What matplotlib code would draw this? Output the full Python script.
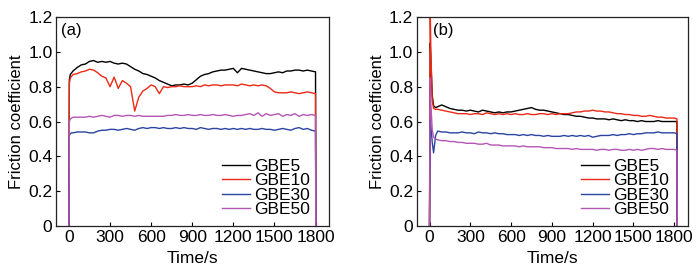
import numpy as np
import matplotlib
matplotlib.use('Agg')
import matplotlib.pyplot as plt

plt.rcParams['font.family'] = ['Liberation Sans', 'DejaVu Sans']
plt.rcParams['font.size'] = 12

LABELS = ['GBE5', 'GBE10', 'GBE30', 'GBE50']
COLORS = ['#000000', '#ea2a16', '#2b44a0', '#b456b4']

# (a) time grid: start-up points, 30 s steps, then the drop after the test
t_a = np.concatenate([[0, 3, 10, 20], np.arange(30, 1801, 30), [1802]])

gbe5_a = [0, 0.84, 0.87, 0.88,
          0.89, 0.91, 0.925, 0.93, 0.945, 0.95, 0.94, 0.945, 0.94, 0.945,
          0.935, 0.93, 0.935, 0.93, 0.915, 0.90, 0.89, 0.875, 0.87, 0.86,
          0.85, 0.835, 0.825, 0.815, 0.805, 0.81, 0.81, 0.815, 0.81, 0.82,
          0.84, 0.86, 0.87, 0.875, 0.885, 0.89, 0.895, 0.895, 0.90, 0.905,
          0.88, 0.905, 0.90, 0.895, 0.89, 0.885, 0.88, 0.875, 0.875, 0.88,
          0.885, 0.88, 0.89, 0.89, 0.895, 0.895, 0.89, 0.895, 0.89, 0.885,
          0]
gbe10_a = [0, 0.82, 0.85, 0.86,
           0.87, 0.875, 0.885, 0.89, 0.90, 0.895, 0.88, 0.86, 0.85, 0.80,
           0.855, 0.79, 0.835, 0.82, 0.80, 0.66, 0.74, 0.775, 0.79, 0.81,
           0.80, 0.76, 0.80, 0.795, 0.80, 0.80, 0.805, 0.80, 0.80, 0.80,
           0.805, 0.80, 0.81, 0.805, 0.81, 0.81, 0.805, 0.81, 0.81, 0.81,
           0.805, 0.815, 0.81, 0.805, 0.81, 0.805, 0.81, 0.805, 0.79, 0.77,
           0.765, 0.765, 0.765, 0.77, 0.765, 0.76, 0.765, 0.77, 0.765, 0.76,
           0]
gbe30_a = [0, 0.52, 0.53, 0.535,
           0.535, 0.54, 0.54, 0.54, 0.535, 0.535, 0.545, 0.55, 0.55, 0.555,
           0.555, 0.55, 0.555, 0.56, 0.555, 0.55, 0.56, 0.565, 0.56, 0.565,
           0.565, 0.56, 0.565, 0.56, 0.56, 0.565, 0.56, 0.565, 0.56, 0.56,
           0.555, 0.565, 0.56, 0.555, 0.56, 0.56, 0.555, 0.56, 0.555, 0.56,
           0.555, 0.56, 0.555, 0.56, 0.555, 0.555, 0.56, 0.555, 0.555, 0.55,
           0.555, 0.56, 0.555, 0.55, 0.56, 0.565, 0.555, 0.56, 0.55, 0.545,
           0]
gbe50_a = [0, 0.60, 0.615, 0.62,
           0.625, 0.625, 0.625, 0.625, 0.63, 0.625, 0.63, 0.635, 0.63, 0.625,
           0.635, 0.635, 0.63, 0.635, 0.635, 0.63, 0.635, 0.63, 0.63, 0.63,
           0.63, 0.63, 0.63, 0.635, 0.635, 0.64, 0.635, 0.635, 0.64, 0.635,
           0.635, 0.64, 0.635, 0.635, 0.64, 0.635, 0.635, 0.64, 0.635, 0.63,
           0.635, 0.635, 0.64, 0.645, 0.635, 0.65, 0.63, 0.645, 0.635, 0.64,
           0.645, 0.63, 0.64, 0.635, 0.645, 0.63, 0.64, 0.635, 0.64, 0.635,
           0]

# (b) time grid
t_b = np.concatenate([[0, 5, 10, 20, 30, 45], np.arange(60, 1801, 30), [1820, 1822]])

gbe5_b = [0, 1.05, 0.95, 0.75, 0.69, 0.68,
          0.685, 0.695, 0.685, 0.675, 0.67, 0.665, 0.665, 0.66, 0.665, 0.66,
          0.655, 0.665, 0.66, 0.655, 0.65, 0.655, 0.65, 0.655, 0.655, 0.66,
          0.665, 0.67, 0.675, 0.68, 0.67, 0.665, 0.665, 0.66, 0.655, 0.65,
          0.645, 0.64, 0.64, 0.635, 0.63, 0.63, 0.625, 0.62, 0.62, 0.615,
          0.615, 0.615, 0.61, 0.615, 0.61, 0.605, 0.61, 0.605, 0.605, 0.60,
          0.605, 0.60, 0.60, 0.60, 0.605, 0.60, 0.60, 0.60, 0.60,
          0.60, 0]
gbe10_b = [0, 1.25, 1.0, 0.72, 0.675, 0.67,
           0.67, 0.665, 0.66, 0.655, 0.65, 0.645, 0.645, 0.645, 0.64, 0.645,
           0.645, 0.64, 0.65, 0.645, 0.64, 0.645, 0.64, 0.645, 0.64, 0.645,
           0.64, 0.64, 0.645, 0.64, 0.64, 0.645, 0.645, 0.64, 0.645, 0.64,
           0.645, 0.645, 0.645, 0.65, 0.655, 0.655, 0.66, 0.66, 0.665, 0.66,
           0.66, 0.655, 0.655, 0.65, 0.645, 0.645, 0.64, 0.64, 0.635, 0.635,
           0.63, 0.63, 0.635, 0.63, 0.625, 0.625, 0.62, 0.62, 0.62,
           0.615, 0]
gbe30_b = [0, 0.61, 0.58, 0.48, 0.42, 0.52,
           0.545, 0.54, 0.54, 0.535, 0.535, 0.535, 0.54, 0.535, 0.535, 0.53,
           0.54, 0.535, 0.535, 0.53, 0.535, 0.53, 0.53, 0.525, 0.525, 0.525,
           0.52, 0.525, 0.52, 0.525, 0.52, 0.52, 0.515, 0.52, 0.515, 0.515,
           0.515, 0.52, 0.515, 0.52, 0.515, 0.52, 0.515, 0.52, 0.51, 0.515,
           0.52, 0.52, 0.52, 0.525, 0.52, 0.525, 0.525, 0.53, 0.525, 0.53,
           0.53, 0.535, 0.535, 0.535, 0.54, 0.535, 0.535, 0.535, 0.535,
           0.53, 0]
gbe50_b = [0, 0.85, 0.70, 0.55, 0.51, 0.50,
           0.495, 0.49, 0.49, 0.485, 0.485, 0.48, 0.48, 0.475, 0.475, 0.475,
           0.47, 0.47, 0.475, 0.465, 0.465, 0.465, 0.46, 0.46, 0.46, 0.46,
           0.455, 0.46, 0.455, 0.455, 0.455, 0.455, 0.45, 0.45, 0.45, 0.445,
           0.445, 0.445, 0.445, 0.44, 0.445, 0.44, 0.44, 0.44, 0.44, 0.435,
           0.44, 0.44, 0.435, 0.44, 0.44, 0.435, 0.435, 0.44, 0.435, 0.44,
           0.435, 0.44, 0.445, 0.445, 0.44, 0.445, 0.44, 0.44, 0.44,
           0.435, 0]

X_TICKS = [0, 300, 600, 900, 1200, 1500, 1800]
Y_TICKS = [0, 0.2, 0.4, 0.6, 0.8, 1.0, 1.2]
Y_TICK_LABELS = ['0', '0.2', '0.4', '0.6', '0.8', '1.0', '1.2']


def draw_panel(ax, t, series, tag, tag_x):
    for y, lab, c in zip(series, LABELS, COLORS):
        ax.plot(t, y, color=c, lw=1.0, label=lab)
    ax.set_xlim(-95, 1900)
    ax.set_ylim(0, 1.2)
    ax.set_xticks(X_TICKS)
    ax.set_yticks(Y_TICKS)
    ax.set_yticklabels(Y_TICK_LABELS)
    ax.tick_params(direction='in', length=3, width=0.8, labelsize=12.5, pad=2.5)
    for s in ax.spines.values():
        s.set_linewidth(0.9)
        s.set_color('#222222')
    ax.set_xlabel('Time/s', fontsize=12.5, labelpad=5)
    ax.set_ylabel('Friction coefficient', fontsize=12, labelpad=3)
    ax.text(tag_x, 0.97, tag, transform=ax.transAxes, ha='left', va='top', fontsize=12)
    ax.legend(loc='lower right', bbox_to_anchor=(0.975, -0.015), frameon=False,
              handlelength=1.6, handletextpad=0.25, labelspacing=-0.05, borderpad=0.2,
              fontsize=12.5)


fig = plt.figure(figsize=(6.99, 2.74), dpi=100)
ax_a = fig.add_axes([0.080, 0.175, 0.391, 0.763])
ax_b = fig.add_axes([0.596, 0.175, 0.388, 0.763])

draw_panel(ax_a, t_a, [gbe5_a, gbe10_a, gbe30_a, gbe50_a], '(a)', 0.018)
draw_panel(ax_b, t_b, [gbe5_b, gbe10_b, gbe30_b, gbe50_b], '(b)', 0.06)

fig.savefig('out.png', dpi=100)
